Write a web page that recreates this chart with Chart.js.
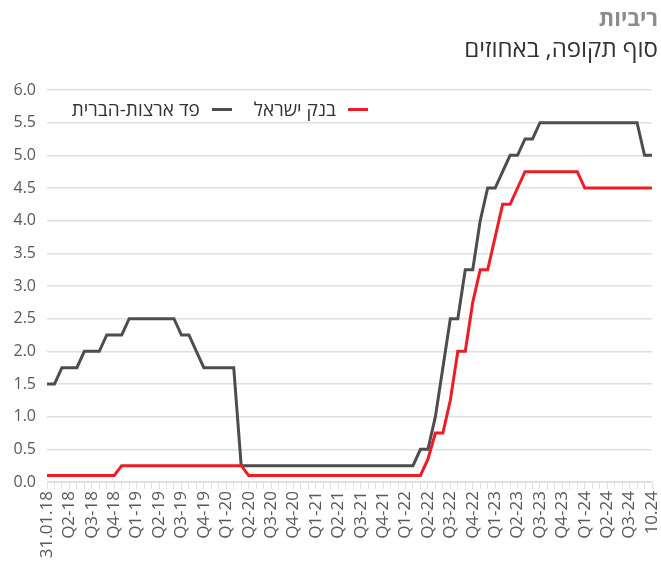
<!DOCTYPE html>
<html lang="he">
<head>
<meta charset="utf-8">
<script src="https://cdn.jsdelivr.net/npm/chart.js@4.4.1/dist/chart.umd.min.js"></script>
<style>
  body { margin: 0; background: #fff; font-family: "Open Sans", "Liberation Sans", sans-serif; }
  #wrap { position: relative; width: 661px; height: 571px; }
  #title { position: absolute; right: 3px; top: 2px; font-size: 22px; font-weight: bold; color: #8c8c8c; direction: rtl; white-space: nowrap; }
  #subtitle { position: absolute; right: 3px; top: 31px; font-size: 24px; color: #333; direction: rtl; white-space: nowrap; }
  #legend { position: absolute; right: 293px; top: 96px; direction: rtl; display: flex; gap: 22px; font-size: 19px; color: #333; white-space: nowrap; }
  #legend .item { display: flex; align-items: center; gap: 12px; flex-shrink: 0; }
  #legend .mark { display: inline-block; width: 20px; height: 3px; flex-shrink: 0; }
  canvas { position: absolute; left: 0; top: 0; }
</style>
</head>
<body>
<div id="wrap">
  <canvas id="myChart" width="661" height="571"></canvas>
  <div id="title">ריביות</div>
  <div id="subtitle">סוף תקופה, באחוזים</div>
  <div id="legend"></div>
</div>
<script>
// סדרות חודשיות, ינואר 2018 עד אוקטובר 2024 (ריבית סוף חודש)
const boiName = "בנק ישראל";
const fedName = "פד ארצות-הברית";

const boiRate = [
  0.1, 0.1, 0.1, 0.1, 0.1, 0.1, 0.1, 0.1, 0.1, 0.1,
  0.25, 0.25, 0.25, 0.25, 0.25, 0.25, 0.25, 0.25, 0.25, 0.25, 0.25, 0.25, 0.25, 0.25, 0.25, 0.25, 0.25,
  0.1, 0.1, 0.1, 0.1, 0.1, 0.1, 0.1, 0.1, 0.1, 0.1, 0.1, 0.1, 0.1, 0.1, 0.1, 0.1, 0.1, 0.1, 0.1, 0.1, 0.1, 0.1, 0.1, 0.1,
  0.35, 0.75, 0.75, 1.25, 2.0, 2.0, 2.75, 3.25, 3.25, 3.75, 4.25, 4.25, 4.5,
  4.75, 4.75, 4.75, 4.75, 4.75, 4.75, 4.75, 4.75,
  4.5, 4.5, 4.5, 4.5, 4.5, 4.5, 4.5, 4.5, 4.5, 4.5
];

const fedRate = [
  1.5, 1.5, 1.75, 1.75, 1.75, 2.0, 2.0, 2.0, 2.25, 2.25, 2.25,
  2.5, 2.5, 2.5, 2.5, 2.5, 2.5, 2.5,
  2.25, 2.25, 2.0, 1.75, 1.75, 1.75, 1.75, 1.75,
  0.25, 0.25, 0.25, 0.25, 0.25, 0.25, 0.25, 0.25, 0.25, 0.25, 0.25, 0.25,
  0.25, 0.25, 0.25, 0.25, 0.25, 0.25, 0.25, 0.25, 0.25, 0.25, 0.25, 0.25,
  0.5, 0.5, 1.0, 1.75, 2.5, 2.5, 3.25, 3.25, 4.0, 4.5, 4.5, 4.75, 5.0, 5.0, 5.25, 5.25,
  5.5, 5.5, 5.5, 5.5, 5.5, 5.5, 5.5, 5.5, 5.5, 5.5, 5.5, 5.5, 5.5, 5.5,
  5.0, 5.0
];

// תוויות הציר - כל שלושה חודשים
const tickLabels = [
  "31.01.18", "Q2-18", "Q3-18", "Q4-18",
  "Q1-19", "Q2-19", "Q3-19", "Q4-19",
  "Q1-20", "Q2-20", "Q3-20", "Q4-20",
  "Q1-21", "Q2-21", "Q3-21", "Q4-21",
  "Q1-22", "Q2-22", "Q3-22", "Q4-22",
  "Q1-23", "Q2-23", "Q3-23", "Q4-23",
  "Q1-24", "Q2-24", "Q3-24", "10.24"
];

const boiColor = "#ee1c25";
const fedColor = "#4d4d4d";
const textColor = "#595959";
const gridColor = "#e0e0e0";

const months = [];
for (let i = 0; i < boiRate.length; i++) {
  const y = 2018 + Math.floor(i / 12);
  const m = (i % 12) + 1;
  months.push(y + "-" + String(m).padStart(2, "0"));
}

// מקרא
const legendDiv = document.getElementById("legend");
[[boiName, boiColor], [fedName, fedColor]].forEach(([name, color]) => {
  const item = document.createElement("div");
  item.className = "item";
  item.innerHTML = `<span class="mark" style="background:${color}"></span><span>${name}</span>`;
  legendDiv.appendChild(item);
});

const ctx = document.getElementById("myChart").getContext("2d");
const myChart = new Chart(ctx, {
  type: "line",
  data: {
    labels: months,
    datasets: [
      { label: boiName, data: boiRate, borderColor: boiColor, borderWidth: 3, pointRadius: 0, tension: 0 },
      { label: fedName, data: fedRate, borderColor: fedColor, borderWidth: 3, pointRadius: 0, tension: 0 },
    ],
  },
  options: {
    responsive: false,
    animation: false,
    layout: { padding: { top: 90, right: 9, left: 0, bottom: 0 } },
    plugins: {
      legend: { display: false },
      tooltip: { enabled: false },
    },
    scales: {
      x: {
        offset: false,
        grid: { drawOnChartArea: false, drawTicks: true, tickLength: 7, color: gridColor },
        border: { display: true, color: gridColor },
        ticks: {
          autoSkip: false,
          maxRotation: 90,
          minRotation: 90,
          padding: 2,
          color: textColor,
          font: { family: "'Open Sans', 'Liberation Sans', sans-serif", size: 17 },
          callback: (v, i) => (i % 3 === 0 ? tickLabels[i / 3] : ""),
        },
        afterFit: (scale) => {
          scale.height = 89;
          scale.paddingLeft = 0;
          scale.paddingRight = 0;
        },
      },
      y: {
        min: 0,
        max: 6,
        grid: { color: gridColor, lineWidth: 1.5, drawTicks: false },
        border: { display: false },
        ticks: {
          stepSize: 0.5,
          padding: 11,
          color: textColor,
          font: { family: "'Open Sans', 'Liberation Sans', sans-serif", size: 16 },
          callback: (v) => v.toFixed(1),
        },
        afterFit: (scale) => { scale.width = 47; },
      },
    },
  },
});
</script>
</body>
</html>
